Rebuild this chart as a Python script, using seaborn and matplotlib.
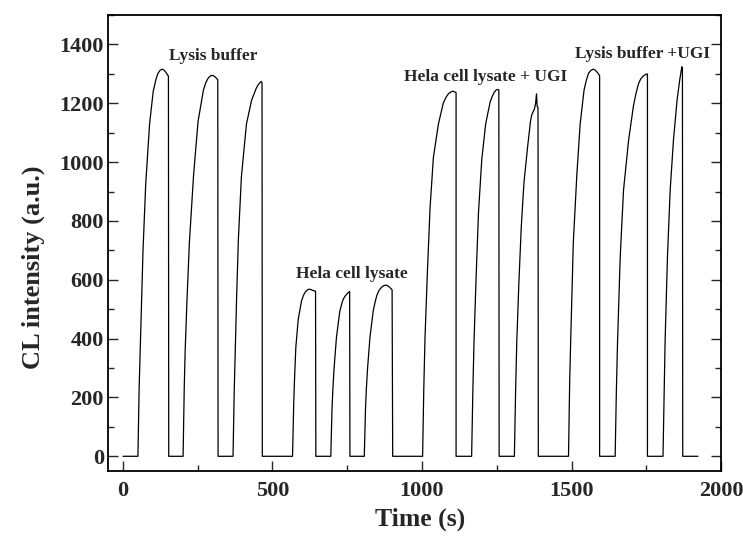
import numpy as np
import pandas as pd
import matplotlib
matplotlib.use("Agg")
import matplotlib.pyplot as plt
from matplotlib.ticker import MultipleLocator
import seaborn as sns

# CL trace: (time s, intensity a.u.) for each injection
lysis_1 = [(50, 0), (52, 120), (54, 230), (57, 340), (62, 520), (67, 700), (76, 925), (89, 1130),
           (101, 1240), (110, 1280), (117, 1302), (124, 1312), (131, 1316), (137, 1313),
           (143, 1306), (152, 1292), (153, 0)]
lysis_2 = [(201, 0), (203, 120), (205, 240), (208, 360), (214, 530), (222, 725), (236, 955),
           (251, 1138), (269, 1245), (277, 1270), (284, 1284), (291, 1292), (297, 1295),
           (304, 1293), (310, 1288), (317, 1280), (318, 0)]
lysis_3 = [(368, 0), (370, 110), (372, 220), (375, 340), (380, 540), (386, 740), (396, 950),
           (413, 1130), (430, 1210), (446, 1252), (453, 1264), (458, 1270), (462, 1274),
           (465, 1270), (466, 0)]
hela_1 = [(567, 0), (569, 90), (571, 180), (574, 270), (578, 370), (586, 465), (597, 528),
          (604, 548), (610, 559), (616, 565), (622, 568), (628, 567), (634, 564), (644, 561),
          (645, 0)]
hela_2 = [(695, 0), (697, 80), (699, 160), (702, 230), (706, 300), (714, 405), (725, 492),
          (732, 520), (737, 535), (744, 546), (750, 553), (755, 558), (758, 560), (759, 0)]
hela_3 = [(807, 0), (809, 80), (811, 160), (814, 230), (818, 300), (826, 405), (837, 495),
          (844, 528), (850, 550), (857, 565), (865, 575), (872, 580), (879, 582), (885, 580),
          (891, 575), (896, 570), (900, 566), (902, 0)]
hela_ugi_1 = [(1002, 0), (1004, 110), (1006, 230), (1010, 400), (1018, 625), (1027, 845),
              (1038, 1015), (1055, 1130), (1071, 1200), (1080, 1220), (1088, 1232),
              (1096, 1238), (1103, 1241), (1109, 1239), (1114, 1236), (1114, 0)]
hela_ugi_2 = [(1166, 0), (1168, 110), (1170, 220), (1174, 390), (1181, 610), (1189, 830),
              (1200, 1010), (1213, 1130), (1228, 1205), (1236, 1226), (1242, 1238),
              (1248, 1245), (1252, 1247), (1257, 1246), (1258, 0)]
hela_ugi_3 = [(1309, 0), (1311, 110), (1313, 220), (1317, 390), (1324, 590), (1332, 780),
              (1341, 930), (1353, 1050), (1363, 1140), (1367, 1160), (1371, 1170),
              (1376, 1180), (1380, 1200), (1383, 1232), (1385, 1190), (1388, 1185), (1389, 0)]
lysis_ugi_1 = [(1490, 0), (1492, 130), (1494, 260), (1498, 420), (1506, 725), (1518, 960),
               (1529, 1130), (1542, 1245), (1550, 1280), (1557, 1302), (1565, 1312),
               (1573, 1316), (1580, 1312), (1587, 1304), (1594, 1294), (1594, 0)]
lysis_ugi_2 = [(1646, 0), (1648, 110), (1650, 220), (1654, 390), (1663, 680), (1674, 905),
               (1691, 1075), (1707, 1190), (1716, 1235), (1724, 1266), (1731, 1282),
               (1739, 1292), (1746, 1297), (1752, 1300), (1754, 1299), (1754, 0)]
lysis_ugi_3 = [(1806, 0), (1808, 110), (1810, 220), (1813, 390), (1821, 680), (1830, 905),
               (1841, 1075), (1853, 1210), (1858, 1250), (1862, 1280), (1866, 1305),
               (1869, 1324), (1871, 1318), (1872, 0)]

labels = ["Lysis buffer", "Hela cell lysate", "Hela cell lysate + UGI", "Lysis buffer +UGI"]
label_pos = [(302, 1362), (767, 621), (1211, 1289), (1739, 1366)]

peaks = [lysis_1, lysis_2, lysis_3, hela_1, hela_2, hela_3,
         hela_ugi_1, hela_ugi_2, hela_ugi_3, lysis_ugi_1, lysis_ugi_2, lysis_ugi_3]
pts = [(0, 0)] + [p for pk in peaks for p in pk] + [(1923, 0)]
df = pd.DataFrame(pts, columns=["time", "cl"])

sns.set_style("ticks")
plt.rcParams["font.family"] = ["Liberation Serif", "DejaVu Serif"]
plt.rcParams["font.weight"] = "bold"

fig = plt.figure(figsize=(7.43, 5.37), dpi=100)
ax = fig.add_axes([0.1454, 0.1229, 0.825, 0.8491])

sns.lineplot(data=df, x="time", y="cl", estimator=None, sort=False,
             color="black", linewidth=0.9, ax=ax)

for txt, (x, y) in zip(labels, label_pos):
    ax.text(x, y, txt, ha="center", va="center", fontsize=12.5, fontweight="bold")

ax.set_xlim(-50, 2000)
ax.set_ylim(-50, 1500)
ax.xaxis.set_major_locator(MultipleLocator(500))
ax.xaxis.set_minor_locator(MultipleLocator(250))
ax.yaxis.set_major_locator(MultipleLocator(200))
ax.yaxis.set_minor_locator(MultipleLocator(100))
ax.tick_params(which="both", direction="in", right=True, top=False, width=1.0)
ax.tick_params(which="major", length=7, labelsize=16)
ax.tick_params(axis="x", which="major", pad=7)
ax.tick_params(axis="y", which="major", pad=3)
ax.tick_params(which="minor", length=4)
for lab in ax.get_xticklabels() + ax.get_yticklabels():
    lab.set_fontweight("bold")
for s in ax.spines.values():
    s.set_linewidth(1.3)
    s.set_color("black")

ax.set_xlabel("Time (s)", fontsize=18.5, fontweight="bold")
ax.set_ylabel("CL intensity (a.u.)", fontsize=19, fontweight="bold")
ax.xaxis.set_label_coords(0.509, -0.081)
ax.yaxis.set_label_coords(-0.103, 0.447)

fig.savefig("out.png", dpi=100)
